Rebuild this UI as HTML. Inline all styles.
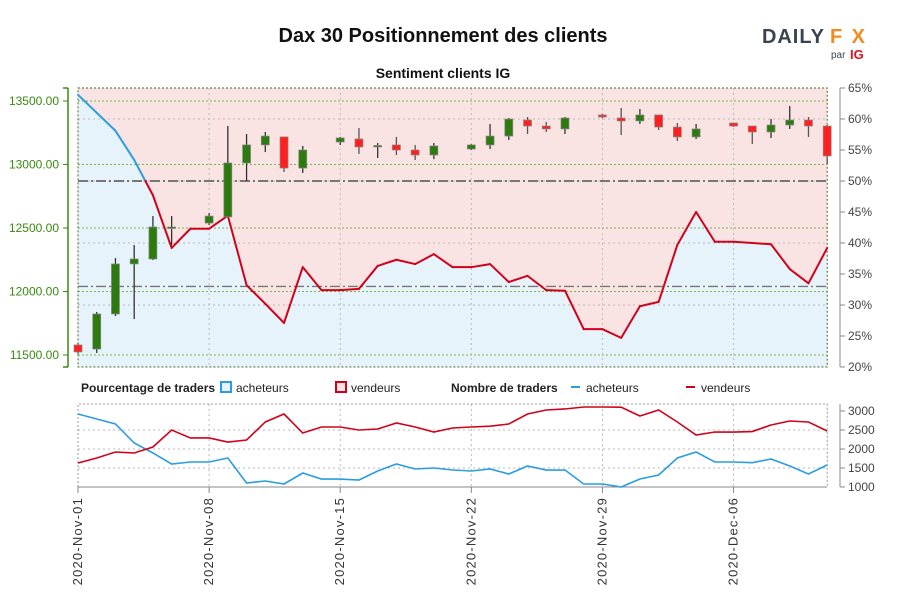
<!DOCTYPE html>
<html><head><meta charset="utf-8"><style>
html,body{margin:0;padding:0;background:#fff;}
svg{display:block;font-family:"Liberation Sans",sans-serif;}
</style></head><body>
<svg id="chart" width="900" height="600" viewBox="0 0 900 600" xmlns="http://www.w3.org/2000/svg">
<text x="443" y="42" text-anchor="middle" font-size="20" font-weight="bold" fill="#111">Dax 30 Positionnement des clients</text>
<text x="443" y="78" text-anchor="middle" font-size="14" font-weight="bold" fill="#111">Sentiment clients IG</text>
<g>
<text x="762" y="43" font-size="20" font-weight="bold" fill="#3a4450" textLength="62" lengthAdjust="spacing">DAILY</text>
<text x="830" y="43" font-size="20" font-weight="bold" fill="#f28c1e" textLength="35" lengthAdjust="spacing">FX</text>
<text x="831" y="58" font-size="10" fill="#3a4450">par</text>
<text x="850" y="59" font-size="13" font-weight="bold" fill="#e0101a">IG</text>
</g>
<g id="main"></g>
<g id="lower"></g>
<g font-size="12" fill="#222">
<text x="81" y="392" font-weight="bold">Pourcentage de traders</text>
<rect x="221" y="382" width="10" height="10" fill="#e6f3fb" stroke="#2a9de0" stroke-width="2"/>
<text x="236" y="392">acheteurs</text>
<rect x="336" y="382" width="10" height="10" fill="#fae3e3" stroke="#d0021b" stroke-width="2"/>
<text x="351" y="392">vendeurs</text>
<text x="451" y="392" font-weight="bold">Nombre de traders</text>
<line x1="571" y1="387" x2="580" y2="387" stroke="#2a9de0" stroke-width="2"/>
<text x="586" y="392">acheteurs</text>
<line x1="686" y1="387" x2="695" y2="387" stroke="#d0021b" stroke-width="2"/>
<text x="701" y="392">vendeurs</text>
</g>
</svg>
<script>
// ---- data ----
const dateLabels = ["2020-Nov-01","2020-Nov-08","2020-Nov-15","2020-Nov-22","2020-Nov-29","2020-Dec-06"];
const dateLabelDays = [0,7,14,21,28,35];
const priceTicks = [11500,12000,12500,13000,13500];
const pctTicks = [20,25,30,35,40,45,50,55,60,65];
const countTicks = [1000,1500,2000,2500,3000];
const buyerPct = [63.9,61,58.1,53.4,47.7,39.2,42.3,42.3,44.4,33.2,30.2,27.1,36.1,32.4,32.4,32.6,36.3,37.3,36.6,38.2,36.1,36.1,36.6,33.7,34.7,32.4,32.3,26.1,26.1,24.7,29.8,30.5,39.7,45,40.2,40.2,40,39.8,35.8,33.5,39.2];
const buyerCount = [2921,2790,2658,2158,1895,1605,1658,1658,1763,1105,1158,1079,1368,1210,1210,1184,1421,1605,1474,1500,1447,1421,1474,1342,1553,1447,1447,1079,1079,1000,1210,1316,1763,1921,1658,1658,1640,1737,1553,1342,1579];
const sellerCount = [1632,1763,1921,1895,2053,2500,2290,2290,2184,2237,2711,2921,2421,2579,2579,2500,2526,2684,2579,2447,2553,2579,2600,2658,2921,3026,3053,3105,3105,3100,2868,3026,2711,2368,2447,2447,2460,2632,2737,2711,2474];
const candleDays = [0,1,2,3,4,5,7,8,9,10,11,12,14,15,16,17,18,19,21,22,23,24,25,26,28,29,30,31,32,33,35,36,37,38,39,40];
const opens  = [11579,11547,11823,12217,12256,12508,12539,12587,13012,13154,13217,12972,13177,13201,13146,13154,13114,13075,13122,13154,13224,13350,13303,13280,13390,13366,13343,13390,13295,13217,13327,13303,13256,13311,13350,13303];
const closes = [11524,11823,12217,12256,12508,12508,12594,13012,13154,13224,12972,13114,13209,13138,13150,13114,13075,13146,13154,13224,13358,13303,13280,13366,13374,13343,13390,13295,13217,13280,13303,13256,13311,13350,13303,13067];
const highs  = [11594,11839,12264,12366,12594,12594,12618,13303,13240,13256,13217,13146,13217,13287,13169,13217,13154,13169,13161,13319,13366,13374,13335,13374,13398,13445,13437,13390,13327,13319,13327,13303,13358,13461,13374,13311];
const lows   = [11508,11516,11807,11783,12248,12366,12524,12587,12870,13098,12941,12933,13154,13083,13051,13075,13035,13043,13114,13122,13193,13240,13256,13240,13366,13232,13319,13272,13185,13201,13295,13161,13209,13280,13217,13004];
const refPrice = 12040;

// ---- scales ----
const NS='http://www.w3.org/2000/svg';
const X0=78, DX=18.73, TOP=88, BOT=367;
const xS=d=>X0+d*DX;
const pY=v=>101+(13500-v)*0.127;
const qY=v=>88+(65-v)*6.2;
const cY=v=>487-(v-1000)*0.038;
function mk(p,tag,a){const e=document.createElementNS(NS,tag);for(const k in a)e.setAttribute(k,a[k]);p.appendChild(e);return e;}
const main=document.getElementById('main');
const lower=document.getElementById('lower');
const XR=xS(40);

let bg=mk(main,'rect',{x:X0,y:TOP,width:XR-X0,height:BOT-TOP,fill:'#fae3e3'});


let area='M'+X0+','+BOT;
buyerPct.forEach((v,i)=>{area+=' L'+xS(i)+','+qY(v);});
area+=' L'+XR+','+BOT+' Z';
let ba=mk(main,'path',{d:area,fill:'#e6f3fb'});



pctTicks.forEach(t=>{ if(t%10===0 && t>20 && t<65){
 let g=mk(main,'line',{x1:X0,x2:XR,y1:qY(t),y2:qY(t),stroke:'#bbb','stroke-dasharray':'2,3'});
 
 }});
priceTicks.forEach(t=>{
 let g=mk(main,'line',{x1:X0,x2:XR,y1:pY(t),y2:pY(t),stroke:'#7ab648','stroke-dasharray':'2,2'});
 
 });
dateLabelDays.forEach(d=>{ if(d>0){
 let g=mk(main,'line',{x1:xS(d),x2:xS(d),y1:TOP,y2:BOT,stroke:'#bbb','stroke-dasharray':'2,3'});
 
 
 let g2=mk(lower,'line',{x1:xS(d),x2:xS(d),y1:404,y2:487,stroke:'#bbb','stroke-dasharray':'2,3'});
 
 }});
let fr=mk(main,'rect',{x:X0,y:TOP,width:XR-X0,height:BOT-TOP,fill:'none',stroke:'#4a6a20','stroke-dasharray':'2,2'});


let l50=mk(main,'line',{x1:X0,x2:XR,y1:qY(50),y2:qY(50),stroke:'#777','stroke-width':2,'stroke-dasharray':'10,3,2,3'});


let lr=mk(main,'line',{x1:X0,x2:XR,y1:pY(refPrice),y2:pY(refPrice),stroke:'#777','stroke-width':1.3,'stroke-dasharray':'10,3,2,3'});



for(let i=0;i<buyerPct.length-1;i++){
 const a=buyerPct[i],b=buyerPct[i+1];
 const x1=xS(i),x2=xS(i+1);
 const seg=(xa,ya,xb,yb,c)=>{let s=mk(main,'line',{x1:xa,y1:ya,x2:xb,y2:yb,stroke:c,'stroke-width':2,'stroke-linecap':'round'});
  
  };
 if((a-50)*(b-50)<0){const t=(a-50)/(a-b);const xm=x1+t*(x2-x1);
  seg(x1,qY(a),xm,qY(50),a>50?'#2a9de0':'#d0021b');seg(xm,qY(50),x2,qY(b),b>50?'#2a9de0':'#d0021b');}
 else seg(x1,qY(a),x2,qY(b),(a+b)/2>50?'#2a9de0':'#d0021b');
}

candleDays.forEach((d,i)=>{
 const x=xS(d),o=opens[i],c=closes[i];
 const up=c>=o;
 let w=mk(main,'line',{x1:x,x2:x,y1:pY(highs[i]),y2:pY(lows[i]),stroke:up?'#333':'#555','stroke-width':1.3});
 
 
 const yt=pY(Math.max(o,c)),yb=pY(Math.min(o,c));
 let b=mk(main,'rect',{x:x-4,y:yt,width:8,height:Math.max(1.5,yb-yt),fill:up?'#2d7a0e':'#ff1f1f',stroke:'#888','stroke-width':0.7});
 
 
});

let la=mk(main,'line',{x1:68,x2:68,y1:TOP,y2:BOT,stroke:'#3a8a10','stroke-width':1.5});


mk(main,'line',{x1:63,x2:68,y1:TOP,y2:TOP,stroke:'#3a8a10','stroke-width':1.5});
mk(main,'line',{x1:63,x2:68,y1:BOT,y2:BOT,stroke:'#3a8a10','stroke-width':1.5});
priceTicks.forEach(t=>{
 mk(main,'line',{x1:63,x2:68,y1:pY(t),y2:pY(t),stroke:'#3a8a10'});
 let tx=mk(main,'text',{x:59,y:pY(t)+4,'text-anchor':'end','font-size':12,fill:'#3a8a10'});
 tx.textContent=t.toFixed(2);
 
 });
let ra=mk(main,'line',{x1:840,x2:840,y1:TOP,y2:BOT,stroke:'#888'});


pctTicks.forEach(t=>{
 mk(main,'line',{x1:840,x2:845,y1:qY(t),y2:qY(t),stroke:'#888'});
 let tx=mk(main,'text',{x:848,y:qY(t)+4,'font-size':12,fill:'#444'});
 tx.textContent=t+'%';
 
 });

[1500,2000,2500].forEach(t=>{
 let g=mk(lower,'line',{x1:X0,x2:XR,y1:cY(t),y2:cY(t),stroke:'#bbb','stroke-dasharray':'2,3'});
 
 });
let lf=mk(lower,'path',{d:`M${X0},487 L${X0},404 L${XR},404 L${XR},487`,fill:'none',stroke:'#999','stroke-dasharray':'2,2'});


let xa=mk(lower,'line',{x1:X0,x2:XR,y1:487,y2:487,stroke:'#888'});


const pl=arr=>arr.map((v,i)=>xS(i)+','+cY(v)).join(' ');
let bl=mk(lower,'polyline',{points:pl(buyerCount),fill:'none',stroke:'#2a9de0','stroke-width':1.6});


let sl=mk(lower,'polyline',{points:pl(sellerCount),fill:'none',stroke:'#d0021b','stroke-width':1.6});


let ca=mk(lower,'line',{x1:840,x2:840,y1:404,y2:487,stroke:'#888'});


countTicks.forEach(t=>{
 mk(lower,'line',{x1:840,x2:845,y1:cY(t),y2:cY(t),stroke:'#888'});
 let tx=mk(lower,'text',{x:848,y:cY(t)+4,'font-size':12,fill:'#444'});
 tx.textContent=t;
 
 });
dateLabels.forEach((s,i)=>{
 const x=xS(dateLabelDays[i]);
 mk(lower,'line',{x1:x,x2:x,y1:487,y2:493,stroke:'#888'});
 let tx=mk(lower,'text',{x:0,y:0,'text-anchor':'end','font-size':13,'letter-spacing':'1.2',fill:'#333',transform:`translate(${x+4},497) rotate(-90)`});
 tx.textContent=s;
 
 });
</script>
</body></html>
